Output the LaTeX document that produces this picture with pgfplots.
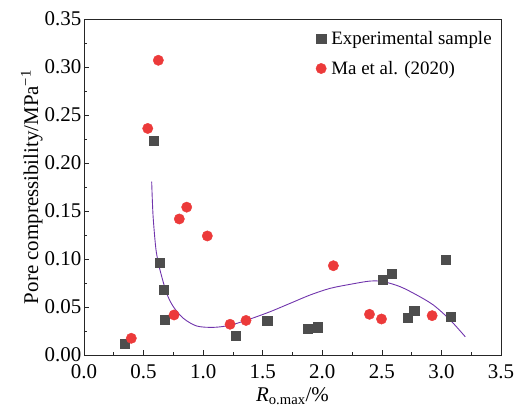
\documentclass[border=0pt]{standalone}
\usepackage{pgfplots}
\pgfplotsset{compat=1.18}
\usepackage{fontspec}
\setmainfont{Liberation Serif}
\definecolor{expgray}{RGB}{77,77,77}
\definecolor{mared}{RGB}{236,58,58}
\definecolor{fitpurple}{RGB}{112,52,172}
\begin{document}
\begin{tikzpicture}
\path[use as bounding box] (-84bp,-53bp) rectangle (430bp,355bp);
\begin{axis}[scale only axis, width=417bp, height=336bp,
  at={(0,0)}, anchor=south west,
  xmin=0, xmax=3.5, ymin=0, ymax=0.35,
  xtick={0,0.5,...,3.5}, ytick={0,0.05,...,0.35},
  minor x tick num=1, minor y tick num=1,
  tick align=inside, tick pos=left,
  major tick length=5bp, minor tick length=3bp,
  axis line style={line width=0.9pt, black!85},
  every tick/.style={line width=0.7pt, black!85},
  /pgf/number format/assume math mode=true,
  font=\fontsize{21}{24}\selectfont,
  xticklabel style={yshift=-6bp, /pgf/number format/.cd, fixed, fixed zerofill, precision=1},
  yticklabel style={inner sep=2.5pt, /pgf/number format/.cd, fixed, fixed zerofill, precision=2},
  xlabel={\textit{R}\textsubscript{o.max}/\%},
  ylabel={Pore compressibility/MPa\textsuperscript{−1}},
  xlabel style={yshift=-2bp},
  ylabel style={yshift=-4bp},
  legend style={at={(rel axis cs:0.99,0.975)}, anchor=north east, draw=none, fill=none,
    font=\fontsize{19}{22}\selectfont, row sep=11bp,
    /tikz/every odd column/.append style={column sep=3bp}},
  legend cell align=left,
]
\addplot[only marks, mark=square*, mark size=4.6pt, color=expgray] coordinates {
(0.339,0.0118) (0.588,0.223) (0.638,0.0965) (0.666,0.0677) (0.674,0.0365)
(1.276,0.0198) (1.537,0.0357) (1.878,0.0278) (1.962,0.029) (2.505,0.0788)
(2.583,0.0844) (2.715,0.0389) (2.771,0.0458) (3.037,0.099) (3.081,0.040)};
\addlegendentry{Experimental sample}
\addplot[only marks, mark=*, mark size=5.2pt, color=mared] coordinates {
(0.397,0.0174) (0.535,0.236) (0.624,0.307) (0.756,0.0417) (0.80,0.1417)
(0.862,0.154) (1.035,0.124) (1.226,0.032) (1.36,0.036) (2.093,0.093)
(2.396,0.0424) (2.497,0.0375) (2.922,0.041)};
\addlegendentry{Ma et al. (2020)}
\addplot[forget plot, smooth, no markers, color=fitpurple, line width=0.9pt] coordinates {
(0.568,0.1805) (0.574,0.160) (0.582,0.1406) (0.605,0.109) (0.638,0.0885)
(0.694,0.0643) (0.75,0.0503) (0.834,0.0382) (0.946,0.0302) (1.086,0.0288)
(1.226,0.031) (1.394,0.0375) (1.562,0.0451) (1.73,0.0538) (1.898,0.0625)
(2.065,0.0694) (2.233,0.0736) (2.401,0.077) (2.513,0.0764) (2.653,0.0712)
(2.793,0.0625) (2.933,0.052) (3.073,0.0365) (3.2,0.019)};
\end{axis}
\end{tikzpicture}
\end{document}
